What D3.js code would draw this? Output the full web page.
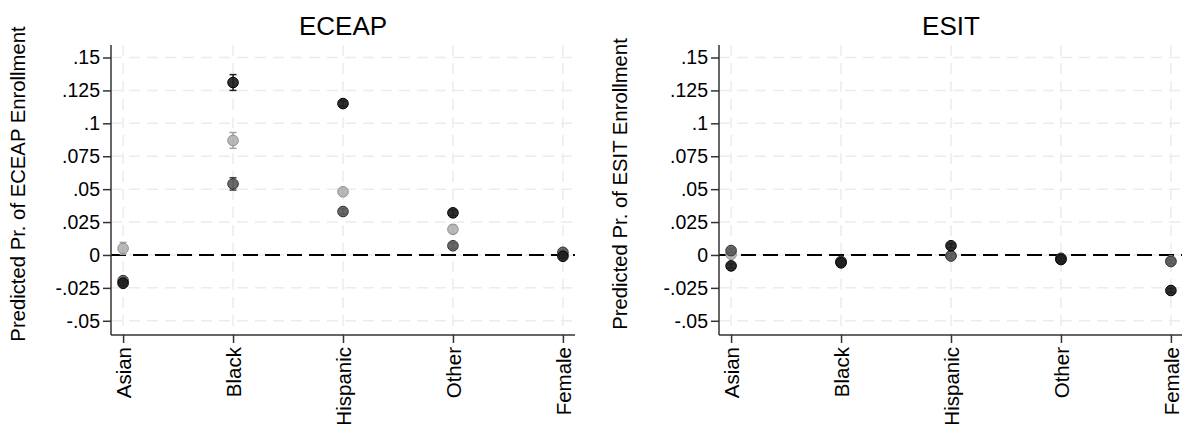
<!DOCTYPE html>
<html>
<head>
<meta charset="utf-8">
<script src="https://cdn.jsdelivr.net/npm/d3@7"></script>
<style>
  body { margin: 0; background: #fff; }
  svg { display: block; font-family: "Liberation Sans", Arial, sans-serif; }
</style>
</head>
<body>
<div id="chart"></div>
<script>
const categories = ["Asian", "Black", "Hispanic", "Other", "Female"];
const yTicks = [-0.05, -0.025, 0, 0.025, 0.05, 0.075, 0.1, 0.125, 0.15];
const yTickLabels = ["-.05", "-.025", "0", ".025", ".05", ".075", ".1", ".125", ".15"];

// ECEAP panel: point estimates and CI half-widths, three series
const eceapDark = [-0.0215, 0.131, 0.115, 0.032, -0.001];
const eceapDarkCI = [0.002, 0.006, 0.002, 0.002, 0.0015];
const eceapMed = [-0.0195, 0.054, 0.033, 0.007, 0.002];
const eceapMedCI = [0.002, 0.0047, 0.002, 0.002, 0.0015];
const eceapLight = [0.005, 0.087, 0.048, 0.0195, 0.0005];
const eceapLightCI = [0.0045, 0.006, 0.002, 0.003, 0.0015];

// ESIT panel
const esitDark = [-0.0083, -0.006, 0.007, -0.0035, -0.027];
const esitDarkCI = [0.0015, 0.0015, 0.0015, 0.0015, 0.0015];
const esitMed = [0.0033, -0.005, -0.0008, -0.0025, -0.005];
const esitMedCI = [0.0015, 0.0015, 0.0015, 0.0015, 0.0015];
const esitLight = [0.0005, -0.005, -0.0005, -0.003, -0.0045];
const esitLightCI = [0.0015, 0.0015, 0.0015, 0.0015, 0.0015];

const seriesStyle = {
  light: { fill: "#b3b3b3", stroke: "#8f8f8f", bar: "#a0a0a0" },
  med: { fill: "#5c5c5c", stroke: "#333", bar: "#444" },
  dark: { fill: "#1e1e1e", stroke: "#000", bar: "#222" },
};

const width = 1182, height = 434;
const svg = d3.select("#chart").append("svg")
  .attr("width", width).attr("height", height);

const y = d3.scaleLinear().domain([-0.0608, 0.1595]).range([335, 45]);

function drawPanel(opts) {
  const { left, right, title, yTitle, yTitleX, series } = opts;
  const g = svg.append("g");
  const x = d3.scalePoint().domain(categories).range([left, right]).padding(0.11);
  const [y0, y1] = y.range();

  // grid
  g.append("g").selectAll("line").data(yTicks).join("line")
    .attr("x1", left).attr("x2", right)
    .attr("y1", d => y(d)).attr("y2", d => y(d))
    .attr("stroke", "#ececec").attr("stroke-width", 1.5)
    .attr("stroke-dasharray", "11,7");
  g.append("g").selectAll("line").data(categories).join("line")
    .attr("x1", d => x(d)).attr("x2", d => x(d))
    .attr("y1", y1).attr("y2", y0)
    .attr("stroke", "#ececec").attr("stroke-width", 1.5)
    .attr("stroke-dasharray", "11,7");

  // zero line
  g.append("line")
    .attr("x1", left).attr("x2", right)
    .attr("y1", y(0)).attr("y2", y(0))
    .attr("stroke", "#000").attr("stroke-width", 2)
    .attr("stroke-dasharray", "15,7");

  // y axis
  const yAxis = g.append("g").attr("transform", `translate(${left},0)`)
    .call(d3.axisLeft(y).tickValues(yTicks).tickSize(8).tickPadding(3)
      .tickFormat((d, i) => yTickLabels[i]));
  yAxis.select(".domain").attr("d", `M0,${y1}V${y0}`).attr("stroke", "#333").attr("stroke-width", 1.5);
  yAxis.selectAll(".tick line").attr("stroke", "#333").attr("stroke-width", 1.5);
  yAxis.selectAll(".tick text").attr("font-size", 19.5).attr("fill", "#000")
    .attr("font-family", "Liberation Sans, Arial, sans-serif");

  // x axis
  const xAxis = g.append("g").attr("transform", `translate(0,${y0})`)
    .call(d3.axisBottom(x).tickSize(8).tickPadding(0));
  xAxis.select(".domain").attr("d", `M${left},0H${right}`).attr("stroke", "#333").attr("stroke-width", 1.5);
  xAxis.selectAll(".tick line").attr("stroke", "#333").attr("stroke-width", 1.5);
  xAxis.selectAll(".tick text")
    .attr("font-size", 20.5).attr("fill", "#000")
    .attr("font-family", "Liberation Sans, Arial, sans-serif")
    .attr("transform", "rotate(-90)")
    .attr("text-anchor", "end")
    .attr("x", -12).attr("y", 0).attr("dy", "0.35em");

  // title
  g.append("text").attr("x", (left + right) / 2).attr("y", 35)
    .attr("text-anchor", "middle").attr("font-size", 26).text(title);

  // y title
  g.append("text")
    .attr("transform", `translate(${yTitleX},${184}) rotate(-90)`)
    .attr("text-anchor", "middle").attr("font-size", 20.3).attr("dy", "0.35em")
    .text(yTitle);

  // points with CI
  series.forEach(s => {
    const st = seriesStyle[s.style];
    const sg = g.append("g");
    const rows = categories.map((c, i) => ({ c, v: s.values[i], ci: s.ci[i] }));
    sg.selectAll("line.ci").data(rows).join("line").attr("class", "ci")
      .attr("x1", d => x(d.c)).attr("x2", d => x(d.c))
      .attr("y1", d => y(d.v - d.ci)).attr("y2", d => y(d.v + d.ci))
      .attr("stroke", st.bar).attr("stroke-width", 1.5);
    ["lo", "hi"].forEach(k => {
      sg.selectAll("line.cap" + k).data(rows).join("line").attr("class", "cap" + k)
        .attr("x1", d => x(d.c) - 3.5).attr("x2", d => x(d.c) + 3.5)
        .attr("y1", d => y(k === "lo" ? d.v - d.ci : d.v + d.ci))
        .attr("y2", d => y(k === "lo" ? d.v - d.ci : d.v + d.ci))
        .attr("stroke", st.bar).attr("stroke-width", 1.5);
    });
    sg.selectAll("circle").data(rows).join("circle")
      .attr("cx", d => x(d.c)).attr("cy", d => y(d.v)).attr("r", 5.3)
      .attr("fill", st.fill).attr("stroke", st.stroke).attr("stroke-width", 1)
      .attr("fill-opacity", 0.92);
  });
}

drawPanel({
  left: 111, right: 575, title: "ECEAP",
  yTitle: "Predicted Pr. of ECEAP Enrollment", yTitleX: 18,
  series: [
    { style: "light", values: eceapLight, ci: eceapLightCI },
    { style: "med", values: eceapMed, ci: eceapMedCI },
    { style: "dark", values: eceapDark, ci: eceapDarkCI },
  ],
});

drawPanel({
  left: 719, right: 1183, title: "ESIT",
  yTitle: "Predicted Pr. of ESIT Enrollment", yTitleX: 620,
  series: [
    { style: "light", values: esitLight, ci: esitLightCI },
    { style: "med", values: esitMed, ci: esitMedCI },
    { style: "dark", values: esitDark, ci: esitDarkCI },
  ],
});
</script>
</body>
</html>
